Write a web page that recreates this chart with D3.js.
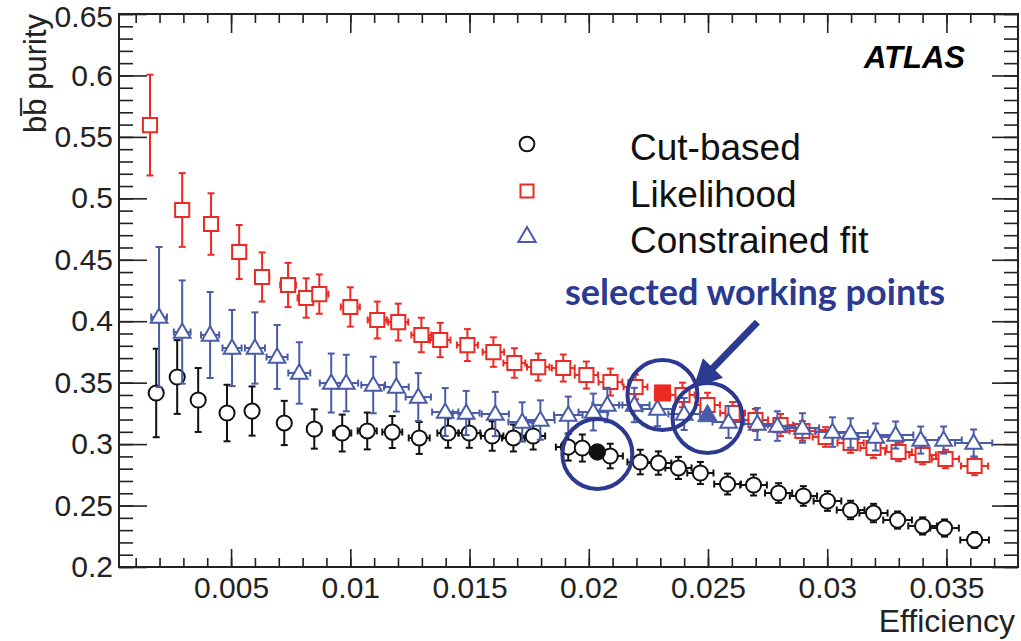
<!DOCTYPE html>
<html>
<head>
<meta charset="utf-8">
<script src="https://cdn.jsdelivr.net/npm/d3@7"></script>
<style>
  body { margin: 0; background: #fff; }
  svg { display: block; }
  text { font-family: "Liberation Sans", Arial, sans-serif; }
</style>
</head>
<body>
<div id="chart"></div>
<script>
// efficiency / purity values
const effCut = [0.00186, 0.00274, 0.00362, 0.00483, 0.00588, 0.00723, 0.00849, 0.00966, 0.01071, 0.01176, 0.01289, 0.0141, 0.01499, 0.01595, 0.01684, 0.01767,
    0.01914, 0.01973, 0.0209, 0.02216, 0.02292, 0.02376, 0.02468, 0.02582, 0.02691, 0.02796, 0.029, 0.03001, 0.03098, 0.03194, 0.03295, 0.034, 0.03492, 0.03618];
const purCut = [0.3416, 0.3546, 0.3359, 0.3253, 0.3269, 0.3172, 0.3123, 0.309, 0.3107, 0.3098, 0.305, 0.309, 0.309, 0.3066, 0.305, 0.3066,
    0.2976, 0.2968, 0.2903, 0.2854, 0.2846, 0.2806, 0.2765, 0.2675, 0.2667, 0.2602, 0.2578, 0.2537, 0.2464, 0.2439, 0.2382, 0.2334, 0.2317, 0.222];
const errCut = [0.036, 0.030, 0.026, 0.023, 0.020, 0.018, 0.016, 0.015, 0.015, 0.013, 0.013, 0.012, 0.012, 0.012, 0.011, 0.011,
    0.011, 0.011, 0.010, 0.010, 0.0095, 0.009, 0.009, 0.0085, 0.0085, 0.008, 0.008, 0.008, 0.0075, 0.0075, 0.007, 0.007, 0.007, 0.0065];
const xErrCut = [0.00008, 0.0001, 0.00013, 0.00017, 0.0002, 0.00025, 0.0003, 0.00038, 0.0004, 0.00042, 0.00044, 0.00045, 0.00046, 0.00047, 0.00048, 0.0005,
    0.00052, 0.00052, 0.00053, 0.00054, 0.00054, 0.00055, 0.00055, 0.00056, 0.00056, 0.00057, 0.00057, 0.00058, 0.00058, 0.00059, 0.0006, 0.0006, 0.0006, 0.0006];

const effLik = [0.0016, 0.00295, 0.00416, 0.00534, 0.0063, 0.00739, 0.00815, 0.0087, 0.01, 0.01113, 0.01201, 0.01298, 0.01377, 0.01491, 0.016, 0.01688, 0.01788,
    0.01893, 0.0199, 0.02091, 0.02196, 0.02393, 0.02498, 0.02603, 0.02699, 0.02804, 0.02896, 0.02993, 0.03098, 0.03194, 0.03299, 0.034, 0.03496, 0.03618];
const purLik = [0.5596, 0.4905, 0.4791, 0.4563, 0.436, 0.4295, 0.4189, 0.4221, 0.4116, 0.401, 0.3993, 0.3888, 0.3847, 0.3806, 0.3749, 0.366, 0.3627,
    0.3619, 0.3562, 0.3505, 0.3465, 0.34, 0.3318, 0.3253, 0.3196, 0.3155, 0.3107, 0.3058, 0.3009, 0.2968, 0.2936, 0.2911, 0.2879, 0.2822];
const errLik = [0.041, 0.030, 0.025, 0.022, 0.020, 0.018, 0.016, 0.016, 0.016, 0.015, 0.015, 0.014, 0.014, 0.013, 0.012, 0.012, 0.011,
    0.011, 0.011, 0.011, 0.010, 0.010, 0.010, 0.009, 0.009, 0.009, 0.008, 0.008, 0.008, 0.008, 0.0075, 0.0075, 0.0075, 0.0075];
const xErrLik = [0.0001, 0.00015, 0.0002, 0.00025, 0.0003, 0.00033, 0.00036, 0.00038, 0.0004, 0.0004, 0.00042, 0.00042, 0.00043, 0.00044, 0.00045, 0.00046, 0.00047,
    0.00048, 0.00049, 0.0005, 0.0005, 0.00051, 0.00052, 0.00052, 0.00053, 0.00053, 0.00054, 0.00054, 0.00055, 0.00055, 0.00056, 0.00056, 0.00057, 0.00057];

const effFit = [0.00198, 0.00295, 0.00412, 0.00504, 0.006, 0.00693, 0.00786, 0.0092, 0.00983, 0.01096, 0.01193, 0.01285, 0.01398, 0.01486, 0.01608, 0.01721, 0.01797,
    0.01914, 0.02019, 0.02078, 0.02191, 0.02288, 0.024, 0.02586, 0.02707, 0.02791, 0.02896, 0.03022, 0.03098, 0.03203, 0.03287, 0.03392, 0.03488, 0.03614];
const purFit = [0.4034, 0.3912, 0.3888, 0.3782, 0.3782, 0.3709, 0.3579, 0.3497, 0.3497, 0.3481, 0.3465, 0.3383, 0.3261, 0.3253, 0.3245, 0.318, 0.3196,
    0.3237, 0.3261, 0.3318, 0.3318, 0.3286, 0.3245, 0.318, 0.3164, 0.3147, 0.3131, 0.3098, 0.309, 0.3058, 0.3074, 0.3033, 0.3033, 0.3009];
const errFit = [0.057, 0.042, 0.035, 0.031, 0.029, 0.026, 0.025, 0.024, 0.023, 0.023, 0.020, 0.0195, 0.0195, 0.018, 0.018, 0.016, 0.016,
    0.015, 0.015, 0.014, 0.014, 0.014, 0.013, 0.013, 0.013, 0.012, 0.012, 0.012, 0.012, 0.011, 0.011, 0.011, 0.011, 0.011];
const xErrFit = [0.00033, 0.00035, 0.00038, 0.0004, 0.00042, 0.00044, 0.00046, 0.00048, 0.0005, 0.0005, 0.00052, 0.00053, 0.00055, 0.00056, 0.00057, 0.00058, 0.0006,
    0.0006, 0.00062, 0.00063, 0.00064, 0.00065, 0.00066, 0.00067, 0.00068, 0.00069, 0.0007, 0.00071, 0.00072, 0.00073, 0.00074, 0.00075, 0.00076, 0.00078];

// selected working points (cut-based, likelihood, constrained fit)
const selEff = [0.02036, 0.02309, 0.02498];
const selPur = [0.2936, 0.3416, 0.3229];

const seriesNames = ["Cut-based", "Likelihood", "Constrained fit"];
const xMajor = [0.005, 0.01, 0.015, 0.02, 0.025, 0.03, 0.035];
const yMajor = [0.2, 0.25, 0.3, 0.35, 0.4, 0.45, 0.5, 0.55, 0.6, 0.65];

// arrow of the annotation, in data units: from, to
const arrowFrom = [0.02707, 0.3993];
const arrowTo = [0.02439, 0.3456];

const width = 1021, height = 641;
const plotLeft = 119, plotRight = 1018, plotTop = 14, plotBottom = 567;
const colors = ["#111111", "#ec2a24", "#4a5ca8"];
const navy = "#2b3990";

let svg = d3.select("#chart")
    .append("svg")
    .attr("width", width)
    .attr("height", height);

let x = d3.scaleLinear().domain([0.0003, 0.038]).range([plotLeft, plotRight]);
let y = d3.scaleLinear().domain([0.2, 0.65]).range([plotBottom, plotTop]);

let xMinor = d3.range(1, 38).map(d => d / 1000);
let yMinor = d3.range(20, 66).map(d => d / 100);

// minor ticks first, then majors with labels
function drawAxis(axis, ticks, size, pos, labels) {
    let g = svg.append("g")
        .attr("transform", pos)
        .call(axis.tickValues(ticks).tickSize(size).tickFormat(labels ? d => String(+d.toFixed(3)) : ""));
    g.select(".domain").remove();
    g.selectAll(".tick line").attr("stroke", "#222").attr("stroke-width", 1.6);
    g.selectAll("text").attr("fill", "#222").style("font-size", "30px").attr("font-family", "Liberation Sans, Arial, sans-serif");
    return g;
}
drawAxis(d3.axisBottom(x), xMinor, -9, `translate(0,${plotBottom})`, false);
drawAxis(d3.axisBottom(x).tickPadding(10), xMajor, -18, `translate(0,${plotBottom})`, true);
drawAxis(d3.axisTop(x), xMinor, -9, `translate(0,${plotTop})`, false);
drawAxis(d3.axisTop(x), xMajor, -19, `translate(0,${plotTop})`, false);
drawAxis(d3.axisLeft(y), yMinor, -14, `translate(${plotLeft},0)`, false);
let yLab = drawAxis(d3.axisLeft(y).tickPadding(6), yMajor, -28, `translate(${plotLeft},0)`, true);
drawAxis(d3.axisRight(y), yMinor, -14, `translate(${plotRight},0)`, false);
drawAxis(d3.axisRight(y), yMajor, -26, `translate(${plotRight},0)`, false);
// keep the top label inside the picture
yLab.selectAll("text").filter(d => d == 0.65).attr("dy", "0.42em");

// frame
svg.append("rect")
    .attr("x", plotLeft).attr("y", plotTop)
    .attr("width", plotRight - plotLeft).attr("height", plotBottom - plotTop)
    .attr("fill", "none").attr("stroke", "#222").attr("stroke-width", 2);

// marker shapes
let symbols = [d3.symbolCircle, d3.symbolSquare, d3.symbolTriangle];
let sizes = [180, 200, 120];

function drawSeries(eff, pur, err, xerr, i) {
    let g = svg.append("g").attr("stroke", colors[i]).attr("stroke-width", 2);
    let cap = 3.5;
    for (let k = 0; k < eff.length; k++) {
        let cx = x(eff[k]), cy = y(pur[k]);
        let y0 = y(pur[k] - err[k]), y1 = y(pur[k] + err[k]);
        let x0 = x(eff[k] - xerr[k]), x1 = x(eff[k] + xerr[k]);
        g.append("line").attr("x1", cx).attr("x2", cx).attr("y1", y0).attr("y2", y1);
        g.append("line").attr("x1", cx - cap).attr("x2", cx + cap).attr("y1", y0).attr("y2", y0);
        g.append("line").attr("x1", cx - cap).attr("x2", cx + cap).attr("y1", y1).attr("y2", y1);
        g.append("line").attr("x1", x0).attr("x2", x1).attr("y1", cy).attr("y2", cy);
        g.append("line").attr("x1", x0).attr("x2", x0).attr("y1", cy - cap).attr("y2", cy + cap);
        g.append("line").attr("x1", x1).attr("x2", x1).attr("y1", cy - cap).attr("y2", cy + cap);
    }
    g.selectAll("path")
        .data(eff)
        .enter()
        .append("path")
        .attr("d", d3.symbol().type(symbols[i]).size(sizes[i]))
        .attr("transform", (d, k) => `translate(${x(d)},${y(pur[k]) + (i == 2 ? 1 : 0)})`)
        .attr("fill", "#fff");
}
drawSeries(effCut, purCut, errCut, xErrCut, 0);
drawSeries(effLik, purLik, errLik, xErrLik, 1);
drawSeries(effFit, purFit, errFit, xErrFit, 2);

// filled selected working points
svg.selectAll(".sel")
    .data(selEff)
    .enter()
    .append("path")
    .attr("class", "sel")
    .attr("d", (d, i) => d3.symbol().type(symbols[i]).size([210, 260, 170][i])())
    .attr("transform", (d, i) => `translate(${x(d)},${y(selPur[i])})`)
    .attr("fill", (d, i) => colors[i])
    .attr("stroke", (d, i) => colors[i])
    .attr("stroke-width", 1);

// circles around working points
svg.selectAll(".ring")
    .data(selEff)
    .enter()
    .append("circle")
    .attr("cx", d => x(d))
    .attr("cy", (d, i) => y(selPur[i]) + 2)
    .attr("r", 35)
    .attr("fill", "none")
    .attr("stroke", navy)
    .attr("stroke-width", 4);

// arrow
let ax0 = x(arrowFrom[0]), ay0 = y(arrowFrom[1]);
let ax1 = x(arrowTo[0]), ay1 = y(arrowTo[1]);
let ang = Math.atan2(ay1 - ay0, ax1 - ax0);
let headLen = 28, headW = 14;
let bx = ax1 - headLen * Math.cos(ang), by = ay1 - headLen * Math.sin(ang);
svg.append("line")
    .attr("x1", ax0).attr("y1", ay0)
    .attr("x2", bx + 3 * Math.cos(ang)).attr("y2", by + 3 * Math.sin(ang))
    .attr("stroke", navy).attr("stroke-width", 7);
svg.append("path")
    .attr("d", `M${ax1},${ay1}L${bx + headW * Math.sin(ang)},${by - headW * Math.cos(ang)}L${bx - headW * Math.sin(ang)},${by + headW * Math.cos(ang)}Z`)
    .attr("fill", navy);

svg.append("text")
    .attr("x", 565).attr("y", 305)
    .attr("fill", navy)
    .style("font-family", "Lato, 'Open Sans', sans-serif")
    .style("font-weight", "bold")
    .style("font-size", "36px")
    .text("selected working points");

// legend
let legend = svg.append("g");
seriesNames.forEach(function(name, i) {
    let ly = [144, 191, 237][i];
    legend.append("path")
        .attr("d", d3.symbol().type(symbols[i]).size([170, 170, 130][i])())
        .attr("transform", `translate(527,${ly})`)
        .attr("fill", "none")
        .attr("stroke", colors[i])
        .attr("stroke-width", 2);
    legend.append("text")
        .attr("x", 630).attr("y", ly + 16)
        .attr("fill", "#111")
        .style("font-size", "37px")
        .text(name);
});

// ATLAS label
svg.append("text")
    .attr("x", 965).attr("y", 68)
    .attr("text-anchor", "end")
    .style("font-size", "31px")
    .style("font-weight", "bold")
    .style("font-style", "italic")
    .text("ATLAS");

// axis titles
svg.append("text")
    .attr("x", 1015).attr("y", 632)
    .attr("text-anchor", "end")
    .attr("fill", "#222")
    .style("font-size", "32px")
    .text("Efficiency");

svg.append("text")
    .attr("transform", "translate(46,14) rotate(-90)")
    .attr("text-anchor", "end")
    .attr("fill", "#222")
    .style("font-size", "31px")
    .text("bb\u0305 purity");
</script>
</body>
</html>
